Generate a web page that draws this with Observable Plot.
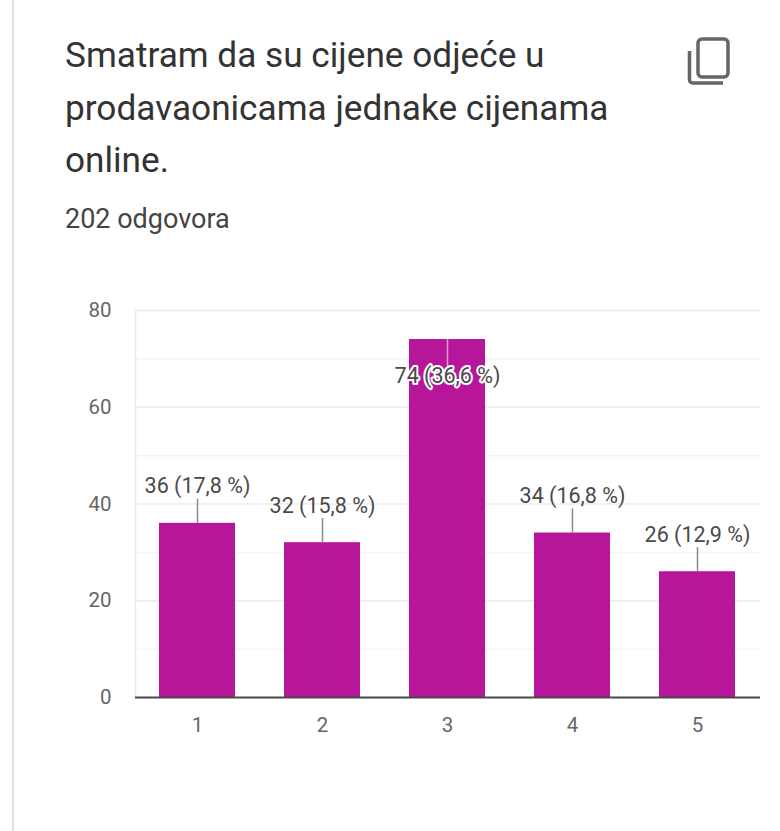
<!DOCTYPE html>
<html lang="hr">
<head>
<meta charset="utf-8">
<script src="https://cdn.jsdelivr.net/npm/d3@7"></script>
<script src="https://cdn.jsdelivr.net/npm/@observablehq/plot@0.6"></script>
<style>
  html, body { margin: 0; padding: 0; background: #fff; }
  body { width: 780px; height: 831px; position: relative; overflow: hidden; font-family: Roboto, sans-serif; }
  #rail { position: absolute; left: 12px; top: 0; bottom: 0; width: 2px; background: #e0e0e0; }
  #head { position: relative; height: 240px; box-sizing: border-box; padding: 29px 0 0 65px; }
  #title { font-size: 35.2px; line-height: 52.5px; color: #333; width: 600px; }
  #sub { font-size: 27px; line-height: 30px; color: #444; margin-top: 17px; }
  #icon { position: absolute; left: 686px; top: 36px; }
  #chart svg { display: block; }
</style>
</head>
<body>
<div id="rail"></div>
<div id="head">
  <div id="title">Smatram da su cijene odjeće u prodavaonicama jednake cijenama online.</div>
  <div id="sub">202 odgovora</div>
  <svg id="icon" width="46" height="52" viewBox="0 0 46 52" fill="none" stroke="#666" stroke-width="3.5">
    <rect x="12" y="3" width="30" height="38" rx="4"></rect>
    <path d="M3.5 15V44a3 3 0 0 0 3 3H37"></path>
  </svg>
</div>
<div id="chart"></div>
<script>
const answers = ["1", "2", "3", "4", "5"];
const counts = [36, 32, 74, 34, 26];
const shares = ["17,8", "15,8", "36,6", "16,8", "12,9"];
const majorTicks = [0, 20, 40, 60, 80];
const minorTicks = [10, 30, 50, 70];

const rows = answers.map((answer, i) => ({
  answer,
  count: counts[i],
  label: `${counts[i]} (${shares[i]} %)`,
  inside: counts[i] > 60
}));

const leaderEnd = d => d.count + (d.inside ? -5.6 : 5);
const labelAt = d => d.count + (d.inside ? -7.6 : 7.6);

const plot = Plot.plot({
  width: 780,
  height: 591,
  marginTop: 70,
  marginBottom: 134,
  marginLeft: 135,
  marginRight: 20,
  style: { fontFamily: "Roboto, sans-serif", background: "#fff" },
  x: { domain: answers, paddingInner: 0.39, paddingOuter: 0.195, align: 0.5, label: null },
  y: { domain: [0, 80], label: null },
  marks: [
    Plot.ruleY(minorTicks, { stroke: "#f5f5f5", strokeWidth: 1.5 }),
    Plot.ruleY(majorTicks.slice(1), { stroke: "#ececec", strokeWidth: 1.5 }),
    Plot.frame({ anchor: "left", stroke: "#ececec", strokeWidth: 1.5 }),
    Plot.barY(rows, { x: "answer", y: "count", fill: "#b7169b" }),
    Plot.ruleX(rows, {
      x: "answer", y1: "count", y2: leaderEnd,
      stroke: d => d.inside ? "#d99ccf" : "#8a8a8a", strokeWidth: 1.5
    }),
    Plot.ruleY([0], { stroke: "#4a4a4a", strokeWidth: 2 }),
    Plot.axisY({
      ticks: majorTicks, tickSize: 0, tickPadding: 24, label: null,
      fontSize: 20.5, fill: "#666"
    }),
    Plot.axisX({
      tickSize: 0, tickPadding: 20, label: null,
      fontSize: 20.5, fill: "#666"
    }),
    Plot.text(rows, {
      x: "answer", y: labelAt, text: "label",
      fontSize: 21.5, fill: "#4a4a4a",
      stroke: d => d.inside ? "#fff" : "none", strokeWidth: 4
    })
  ]
});
document.getElementById("chart").append(plot);
</script>
</body>
</html>
